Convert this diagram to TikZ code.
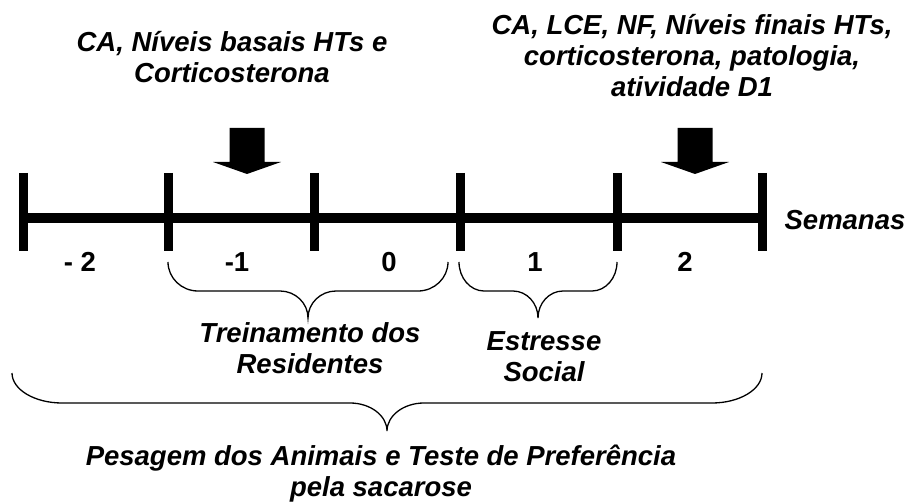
\documentclass[tikz,border=0pt]{standalone}
\usepackage{fontspec}
\setmainfont{Liberation Sans}
\usepackage{tikz}
\usetikzlibrary{calc}
\tikzset{
  timeLine/.style={
    line width=10pt,
    black
  },
  tickMark/.style={
    line width=9pt,
    black
  },
  blockArrow/.style={
    fill=black,
    draw=none
  },
  braceLine/.style={
    line width=1.3pt,
    black
  },
  weekLabel/.style={
    font=\bfseries\fontsize{27.5}{31}\selectfont,
    inner sep=0pt,
    anchor=base
  },
  noteText/.style={
    font=\bfseries\itshape\fontsize{27.5}{31}\selectfont,
    align=center,
    inner sep=0pt,
    anchor=base
  }
}
% brace: left x, right x, top y, flat y, tip y, end radius, middle radius
\newcommand{\timeBrace}[7]{%
  \draw[braceLine] (#1,#3)
    .. controls (#1,{#3+0.55*(#4-#3)}) and ({#1+0.45*#6},#4) .. ({#1+#6},#4)
    -- ({(#1+#2)/2-#7},#4)
    .. controls ({(#1+#2)/2-0.45*#7},#4) and ({(#1+#2)/2},{#5-0.55*(#5-#4)}) .. ({(#1+#2)/2},#5)
    .. controls ({(#1+#2)/2},{#5-0.55*(#5-#4)}) and ({(#1+#2)/2+0.45*#7},#4) .. ({(#1+#2)/2+#7},#4)
    -- ({#2-#6},#4)
    .. controls ({#2-0.45*#6},#4) and (#2,{#3+0.55*(#4-#3)}) .. (#2,#3);}
\begin{document}
\begin{tikzpicture}[x=1pt,y=-1pt]
    \useasboundingbox (0,0) rectangle (907,502);

    % timeline and weeks
    \draw[timeLine] (23,218) -- (762,218);
    \foreach \tx in {23,168,314,460,617,762}
        \draw[tickMark] (\tx,173) -- (\tx,251);

    \node[weekLabel] (wkMinusTwo) at (80,272) {- 2};
    \node[weekLabel] (wkMinusOne) at (237,272) {-1};
    \node[weekLabel] (wkZero) at (389,272) {0};
    \node[weekLabel] (wkOne) at (535,272) {1};
    \node[weekLabel] (wkTwo) at (685,272) {2};
    \node[noteText] (semanas) at (845,230) {Semanas};

    % sampling points (base = last line)
    \node[noteText] (basal) at (232,83) {CA, Níveis basais HTs e\\Corticosterona};
    \node[noteText] (final) at (692,97) {CA, LCE, NF, Níveis finais HTs,\\corticosterona, patologia,\\atividade D1};
    \foreach \ax in {247,695}
        \fill[blockArrow] (\ax-17.5,128) -- (\ax+17.5,128) -- (\ax+17.5,162) -- (\ax+34,162)
            -- (\ax,174) -- (\ax-34,162) -- (\ax-17.5,162) -- cycle;

    % periods
    \timeBrace{168}{448}{262}{291}{318}{30}{28}
    \timeBrace{459}{617}{262}{291}{318}{25}{25}
    \timeBrace{12}{762}{373}{403}{431}{50}{37}

    \node[noteText] (treino) at (310,373) {Treinamento dos\\Residentes};
    \node[noteText] (estresse) at (544,381) {Estresse\\Social};
    \node[noteText] (pesagem) at (381,496) {Pesagem dos Animais e Teste de Preferência\\pela sacarose};

\end{tikzpicture}
\end{document}
